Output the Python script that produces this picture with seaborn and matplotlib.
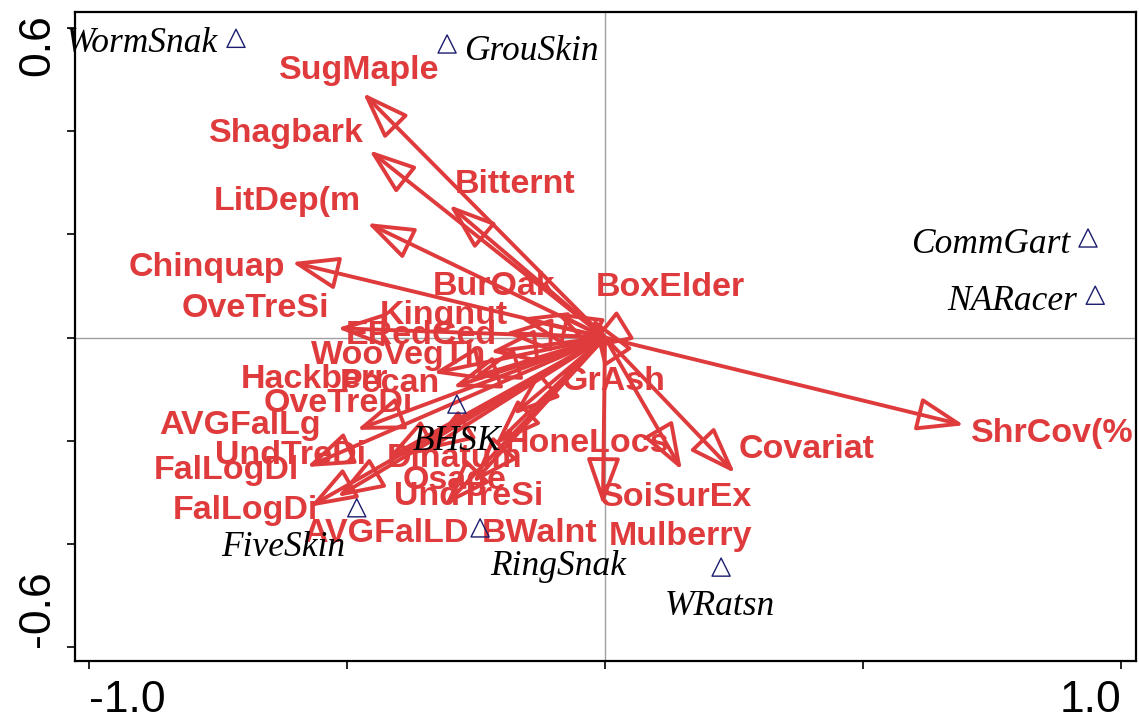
import matplotlib
matplotlib.use("Agg")
import matplotlib.pyplot as plt
import matplotlib.transforms as mtransforms
import seaborn as sns
from matplotlib.patches import FancyArrowPatch

# ── Environmental variables (arrow tips) ──
env_names = ["SugMaple", "Shagbark", "Bitternt", "LitDep(m", "Chinquap", "OveTreSi",
             "BurOak", "Kingnut", "ERedCed", "WooVegTh", "Hackberr", "Pecan",
             "BoxElder", "GrAsh", "OveTreDi", "AVGFalLg", "UndTreDi", "FalLogDl",
             "FalLogDi", "Dinatum", "Osage", "UndTreSi", "AVGFalLD", "BWalnt",
             "HoneLocs", "SoiSurEx", "Mulberry", "Covariat", "ShrCov(%"]
env_x = [-0.469, -0.457, -0.302, -0.461, -0.607, -0.519,
         -0.097, -0.165, -0.194, -0.223, -0.333, -0.256,
         -0.025, -0.039, -0.295, -0.481, -0.422, -0.578,
         -0.572, -0.345, -0.256, -0.310, -0.519, -0.213,
         -0.178, -0.004, 0.149, 0.252, 0.696]
env_y = [0.474, 0.363, 0.257, 0.222, 0.146, 0.018,
         0.049, 0.038, 0.009, -0.028, -0.069, -0.077,
         0.038, -0.024, -0.096, -0.179, -0.234, -0.251,
         -0.328, -0.218, -0.282, -0.325, -0.309, -0.208,
         -0.150, -0.325, -0.257, -0.263, -0.170]
# label anchor points (as placed in the original plot)
env_lab_x = [-0.477, -0.618, -0.174, -0.616, -0.771, -0.678,
             -0.215, -0.312, -0.355, -0.399, -0.562, -0.417,
             0.126, 0.017, -0.516, -0.707, -0.609, -0.734,
             -0.696, -0.291, -0.291, -0.264, -0.424, -0.126,
             -0.035, 0.138, 0.147, 0.390, 0.866]
env_lab_y = [0.524, 0.402, 0.303, 0.270, 0.142, 0.063,
             0.106, 0.049, 0.011, -0.028, -0.075, -0.082,
             0.104, -0.078, -0.121, -0.164, -0.222, -0.251,
             -0.328, -0.228, -0.270, -0.301, -0.373, -0.373,
             -0.199, -0.303, -0.379, -0.210, -0.179]

# ── Species scores ──
spp_names = ["WormSnak", "GrouSkin", "CommGart", "NARacer", "BHSK", "FiveSkin", "RingSnak", "WRatsn"]
spp_x = [-0.715, -0.306, 0.936, 0.950, -0.287, -0.481, -0.242, 0.225]
spp_y = [0.580, 0.569, 0.193, 0.082, -0.129, -0.330, -0.369, -0.445]
spp_lab_x = [-0.897, -0.143, 0.748, 0.789, -0.287, -0.624, -0.091, 0.223]
spp_lab_y = [0.577, 0.563, 0.189, 0.078, -0.193, -0.400, -0.437, -0.513]

RED = "#df3b3d"
NAVY = "#1c1c6e"

sns.set_style("white")
plt.rcParams["font.family"] = ["Liberation Sans", "DejaVu Sans"]

fig = plt.figure(figsize=(11.39, 7.21), dpi=100)
ax = fig.add_axes([75 / 1139, 60 / 721, 1061 / 1139, 649 / 721])
ax.set_xlim(-1.027, 1.029)
ax.set_ylim(-0.627, 0.631)

ax.axhline(0, color="#a0a0a0", lw=1, zorder=1)
ax.axvline(0, color="#a0a0a0", lw=1, zorder=1)

# ── Arrows ──
for ex, ey in zip(env_x, env_y):
    arr = FancyArrowPatch((0, 0), (ex, ey),
                          arrowstyle="-|>,head_length=1.45,head_width=0.52",
                          mutation_scale=20, lw=2.8, ec=RED, fc="none",
                          shrinkA=0, shrinkB=0, zorder=3)
    ax.add_patch(arr)

for name, lx, ly in zip(env_names, env_lab_x, env_lab_y):
    ax.text(lx, ly, name, color=RED, fontsize=24.5, fontweight="bold",
            ha="center", va="center_baseline", zorder=4)

# ── Species ──
sns.scatterplot(x=spp_x, y=spp_y, marker="^", s=170, ax=ax, zorder=5,
                edgecolor=NAVY, linewidth=1.0)
ax.collections[-1].set_facecolor("none")
ax.collections[-1].set_edgecolor(NAVY)

for name, lx, ly in zip(spp_names, spp_lab_x, spp_lab_y):
    ax.text(lx, ly, name, color="black", fontsize=25.5, style="italic",
            family=["Liberation Serif", "DejaVu Serif"],
            ha="center", va="center_baseline", zorder=6)

# ── Axes styling ──
for sp in ax.spines.values():
    sp.set_visible(True)
    sp.set_color("black")
    sp.set_linewidth(1.6)

ax.set_xticks([-1.0, -0.5, 0.0, 0.5, 1.0])
ax.set_xticklabels(["-1.0", "", "", "", "1.0"])
ax.set_yticks([-0.6, -0.4, -0.2, 0.0, 0.2, 0.4, 0.6])
ax.set_yticklabels(["-0.6", "", "", "", "", "", "0.6"], rotation=90)
ax.tick_params(axis="both", direction="out", length=6, width=1.2,
               colors="black", labelsize=32, left=True, bottom=True)
ax.tick_params(axis="x", pad=8)
ax.tick_params(axis="y", pad=6)

xl = ax.get_xticklabels()
xl[0].set_ha("left")
xl[-1].set_ha("right")
yl = ax.get_yticklabels()
yl[0].set_va("bottom")
yl[-1].set_va("top")
# nudge the top y label upward a bit, like the original
yl[-1].set_transform(yl[-1].get_transform() +
                     mtransforms.ScaledTranslation(0, 0.14, fig.dpi_scale_trans))

fig.savefig("out.png", dpi=100)
